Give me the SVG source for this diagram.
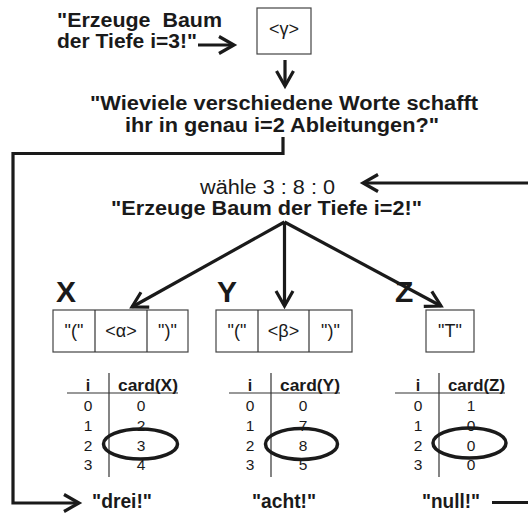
<svg xmlns="http://www.w3.org/2000/svg" width="528" height="514" viewBox="0 0 528 514">
  <style>
    text { font-family: "Liberation Sans", Arial, sans-serif; fill: #1a1a1a; }
    .b { font-weight: bold; font-size: 20px; }
    .r { font-size: 20px; }
    .lbl { font-weight: bold; font-size: 30px; }
    .cell { font-size: 18px; text-anchor: middle; }
    .hd { font-weight: bold; font-size: 16px; }
    .num { font-size: 15.5px; text-anchor: middle; }
    .box { fill: #fff; stroke: #444; stroke-width: 1.2; }
    .rule { stroke: #333; stroke-width: 1.2; fill: none; }
    .flow { fill: none; stroke: #1a1a1a; stroke-width: 3.2; stroke-linejoin: miter; }
    .ring { fill: none; stroke: #1a1a1a; stroke-width: 3.5; }
  </style>
  <defs>
    <marker id="head" markerUnits="userSpaceOnUse" viewBox="-18 -11 20 22" refX="0" refY="0" markerWidth="20" markerHeight="22" orient="auto" overflow="visible">
      <path d="M -15 -8.5 L 0 0 L -15 8.5" fill="none" stroke="#1a1a1a" stroke-width="3.2"/>
    </marker>
  </defs>

  <!-- prompt and start symbol -->
  <g id="prompt">
    <text class="b" x="57" y="27" textLength="165" lengthAdjust="spacingAndGlyphs" style="white-space:pre">"Erzeuge  Baum</text>
    <text class="b" x="57" y="48" textLength="140" lengthAdjust="spacingAndGlyphs">der Tiefe i=3!"</text>
  </g>
  <g id="gamma">
    <rect class="box" x="257" y="8" width="54" height="46"/>
    <text class="cell" x="284" y="35">&lt;γ&gt;</text>
  </g>
  <g id="question">
    <text class="b" x="90" y="110" textLength="388" lengthAdjust="spacingAndGlyphs">"Wieviele verschiedene Worte schafft</text>
    <text class="b" x="125" y="132" textLength="314" lengthAdjust="spacingAndGlyphs">ihr in genau i=2 Ableitungen?"</text>
  </g>
  <g id="choose">
    <text class="r" x="200" y="194" textLength="135" lengthAdjust="spacingAndGlyphs">wähle 3 : 8 : 0</text>
    <text class="b" x="111" y="215" textLength="311" lengthAdjust="spacingAndGlyphs">"Erzeuge Baum der Tiefe i=2!"</text>
  </g>

  <!-- X -->
  <g id="nodeX">
    <text class="lbl" x="56" y="302">X</text>
    <rect class="box" x="53" y="310" width="135" height="42"/>
    <line class="rule" x1="95" y1="310" x2="95" y2="352"/>
    <line class="rule" x1="147" y1="310" x2="147" y2="352"/>
    <text class="cell" x="74" y="337">"("</text>
    <text class="cell" x="121" y="337">&lt;α&gt;</text>
    <text class="cell" x="167.5" y="337">")"</text>
  </g>
  <!-- Y -->
  <g id="nodeY">
    <text class="lbl" x="217" y="302">Y</text>
    <rect class="box" x="216" y="310" width="136" height="42"/>
    <line class="rule" x1="258" y1="310" x2="258" y2="352"/>
    <line class="rule" x1="309" y1="310" x2="309" y2="352"/>
    <text class="cell" x="237" y="337">"("</text>
    <text class="cell" x="283.5" y="337">&lt;β&gt;</text>
    <text class="cell" x="330.5" y="337">")"</text>
  </g>
  <!-- Z -->
  <g id="nodeZ">
    <text class="lbl" x="395" y="302">Z</text>
    <rect class="box" x="426" y="310" width="48" height="42"/>
    <text class="cell" x="450" y="337">"T"</text>
  </g>

  <!-- card tables -->
  <g id="tableX">
    <line class="rule" x1="67" y1="393" x2="178" y2="393"/>
    <line class="rule" x1="109" y1="373" x2="109" y2="477"/>
    <text class="hd" x="88" y="391" text-anchor="middle">i</text>
    <text class="hd" x="118" y="391" textLength="60" lengthAdjust="spacingAndGlyphs">card(X)</text>
    <text class="num" x="88" y="411">0</text><text class="num" x="141" y="411">0</text>
    <text class="num" x="88" y="431">1</text><text class="num" x="141" y="431">2</text>
    <text class="num" x="88" y="450.5">2</text><text class="num" x="141" y="450.5">3</text>
    <text class="num" x="88" y="470">3</text><text class="num" x="141" y="470">4</text>
    <ellipse class="ring" cx="140.5" cy="444" rx="37" ry="15"/>
  </g>
  <g id="tableY">
    <line class="rule" x1="229" y1="393" x2="340" y2="393"/>
    <line class="rule" x1="271" y1="373" x2="271" y2="477"/>
    <text class="hd" x="250" y="391" text-anchor="middle">i</text>
    <text class="hd" x="280" y="391" textLength="60" lengthAdjust="spacingAndGlyphs">card(Y)</text>
    <text class="num" x="250" y="411">0</text><text class="num" x="303" y="411">0</text>
    <text class="num" x="250" y="431">1</text><text class="num" x="303" y="431">7</text>
    <text class="num" x="250" y="450.5">2</text><text class="num" x="303" y="450.5">8</text>
    <text class="num" x="250" y="470">3</text><text class="num" x="303" y="470">5</text>
    <ellipse class="ring" cx="301.5" cy="444" rx="36" ry="15.5"/>
  </g>
  <g id="tableZ">
    <line class="rule" x1="395" y1="393" x2="505" y2="393"/>
    <line class="rule" x1="439" y1="373" x2="439" y2="477"/>
    <text class="hd" x="418" y="391" text-anchor="middle">i</text>
    <text class="hd" x="448" y="391" textLength="57" lengthAdjust="spacingAndGlyphs">card(Z)</text>
    <text class="num" x="418" y="411">0</text><text class="num" x="471" y="411">1</text>
    <text class="num" x="418" y="431">1</text><text class="num" x="471" y="431">0</text>
    <text class="num" x="418" y="450.5">2</text><text class="num" x="471" y="450.5">0</text>
    <text class="num" x="418" y="470">3</text><text class="num" x="471" y="470">0</text>
    <ellipse class="ring" cx="469.5" cy="443" rx="36.5" ry="15"/>
  </g>

  <!-- answers -->
  <g id="answers">
    <text class="b" x="92" y="508" textLength="60" lengthAdjust="spacingAndGlyphs">"drei!"</text>
    <text class="b" x="252" y="508" textLength="64" lengthAdjust="spacingAndGlyphs">"acht!"</text>
    <text class="b" x="422" y="508" textLength="58" lengthAdjust="spacingAndGlyphs">"null!"</text>
  </g>

  <!-- connectors -->
  <g id="connectors">
    <line class="flow" x1="198" y1="45" x2="234" y2="45" marker-end="url(#head)"/>
    <line class="flow" x1="285" y1="60" x2="285" y2="86" marker-end="url(#head)"/>
    <path class="flow" d="M 283 137 V 153.5 H 13 V 503 H 79" marker-end="url(#head)"/>
    <path class="flow" d="M 492 502.5 H 540 V 183 H 363" marker-end="url(#head)"/>
    <line class="flow" x1="284.5" y1="222" x2="132" y2="307" marker-end="url(#head)"/>
    <line class="flow" x1="284.5" y1="222" x2="284.5" y2="306" marker-end="url(#head)"/>
    <line class="flow" x1="284.5" y1="222" x2="441" y2="306" marker-end="url(#head)"/>
  </g>
</svg>
